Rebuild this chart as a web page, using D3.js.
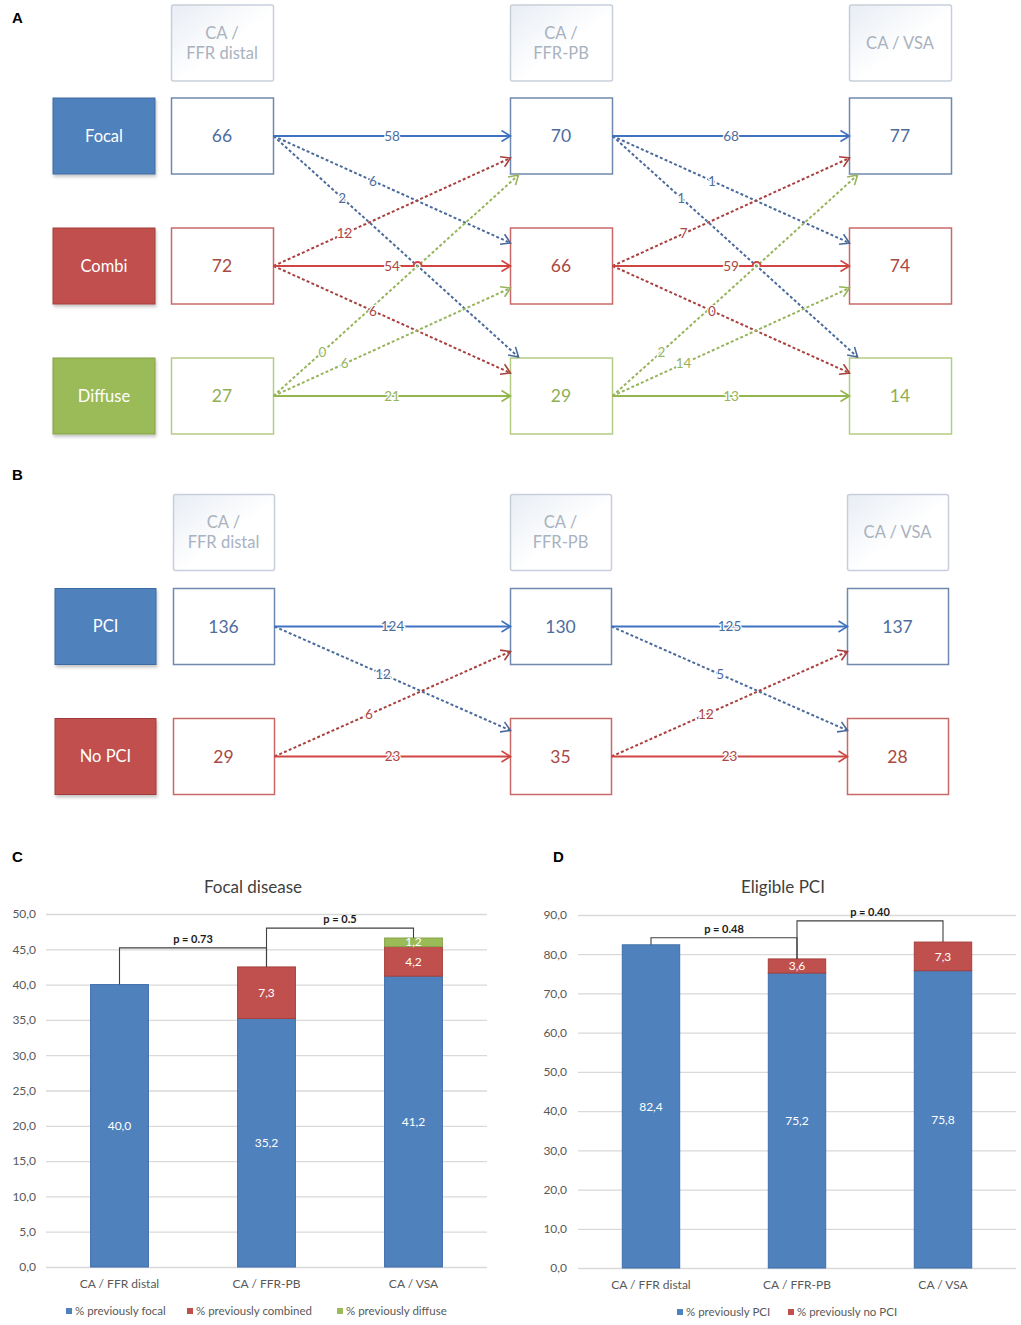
<!DOCTYPE html>
<html><head><meta charset="utf-8">
<script src="https://cdn.jsdelivr.net/npm/d3@7"></script>
<style>
body{margin:0;background:#fff}
svg{display:block}
</style>
</head><body>
<svg id="chart" width="1021" height="1325"></svg>
<script>
// ---------------- DATA ----------------
const flowStages = [["CA /","FFR distal"],["CA /","FFR-PB"],["CA / VSA"]];
const panelACategories = ["Focal","Combi","Diffuse"];
const panelACounts = [[66,72,27],[70,66,29],[77,74,14]];           // per stage, per category
const panelAFlow1 = [[58,6,2],[12,54,6],[0,6,21]];                  // FFR distal -> FFR-PB (from row, to col)
const panelAFlow2 = [[68,1,1],[7,59,0],[2,14,13]];                  // FFR-PB -> VSA
const panelBCategories = ["PCI","No PCI"];
const panelBCounts = [[136,29],[130,35],[137,28]];
const panelBFlow1 = [[124,12],[6,23]];
const panelBFlow2 = [[125,5],[12,23]];

const barStages = ["CA / FFR distal","CA / FFR-PB","CA / VSA"];
const focalPrevFocal = [40.0,35.2,41.2];
const focalPrevCombined = [0,7.3,4.2];
const focalPrevDiffuse = [0,0,1.2];
const focalTicks = [0,5,10,15,20,25,30,35,40,45,50];
const focalLegend = ["% previously focal","% previously combined","% previously diffuse"];
const focalPValues = [{from:0,to:1,level:45.2,text:"p = 0.73"},{from:1,to:2,level:48.0,text:"p = 0.5"}];

const pciPrevPCI = [82.4,75.2,75.8];
const pciPrevNoPCI = [0,3.6,7.3];
const pciTicks = [0,10,20,30,40,50,60,70,80,90];
const pciLegend = ["% previously PCI","% previously no PCI"];
const pciPValues = [{from:0,to:1,level:84.2,text:"p = 0.48"},{from:1,to:2,level:88.5,text:"p = 0.40"}];

// ---------------- STYLE ----------------
const FONT = "Lato, 'Open Sans', sans-serif";
const palette = [
  {fill:"#4F81BD", edge:"#3c6aa3", box:"#7089b0", text:"#4d6d9d", solid:"#3f72c0", dash:"#4a6a9b", label:"#4d6d9d"},
  {fill:"#C0504D", edge:"#a03e3b", box:"#c96a69", text:"#a94845", solid:"#cf4542", dash:"#a8403e", label:"#a94845"},
  {fill:"#9BBB59", edge:"#82a046", box:"#b5cc84", text:"#91ae55", solid:"#93b64f", dash:"#97b45c", label:"#97b45c"}
];

const svg = d3.select("#chart");
const defs = svg.append("defs");
const grad = defs.append("linearGradient").attr("id","hdrGrad").attr("x1",0).attr("y1",0).attr("x2",1).attr("y2",1);
grad.append("stop").attr("offset","0%").attr("stop-color","#e8edf4");
grad.append("stop").attr("offset","55%").attr("stop-color","#ffffff");
const flt = defs.append("filter").attr("id","shadow").attr("x","-20%").attr("y","-20%").attr("width","140%").attr("height","160%");
flt.append("feDropShadow").attr("dx",1).attr("dy",2.5).attr("stdDeviation",1.8).attr("flood-color","#000").attr("flood-opacity",0.22);

function markerFor(color){
  const id = "arr" + color.slice(1);
  if (defs.select("#"+id).empty()){
    defs.append("marker").attr("id",id).attr("viewBox","-11 -7 13 14").attr("refX",0).attr("refY",0)
      .attr("markerWidth",13).attr("markerHeight",14).attr("markerUnits","userSpaceOnUse").attr("orient","auto")
      .append("path").attr("d","M-9,-5.5L0,0L-9,5.5").attr("fill","none").attr("stroke",color).attr("stroke-width",1.6);
  }
  return "url(#"+id+")";
}

// panel letters
[["A",12,23],["B",12,480],["C",12,862],["D",553,862]].forEach(([t,x,y])=>{
  svg.append("text").attr("x",x).attr("y",y).text(t).attr("font-family","'Liberation Sans', Arial, sans-serif")
    .attr("font-weight","bold").attr("font-size",15).attr("fill","#000");
});

// ---------------- FLOW DIAGRAMS ----------------
function drawFlow(cfg){
  const g = svg.append("g");
  const W = cfg.boxW, H = cfg.boxH;
  const x = d3.scalePoint().domain(d3.range(cfg.stages.length)).range(cfg.xRange);
  const y = d3.scalePoint().domain(d3.range(cfg.categories.length)).range(cfg.yRange);

  cfg.stages.forEach((lines,i)=>{
    g.append("rect").attr("x",x(i)+0.5).attr("y",cfg.headerY-H/2).attr("width",W).attr("height",H).attr("rx",2)
      .attr("fill","url(#hdrGrad)").attr("stroke","#c8cfda").attr("stroke-width",1.5);
    const t = g.append("text").attr("text-anchor","middle").attr("fill","#a9b2bf").attr("font-size",16.5).attr("font-family",FONT);
    lines.forEach((l,k)=> t.append("tspan").attr("x",x(i)+W/2).attr("y",cfg.headerY+(k-(lines.length-1)/2)*20).attr("dy","0.35em").text(l));
  });

  cfg.categories.forEach((c,r)=>{
    const p = palette[cfg.colorIdx[r]];
    g.append("rect").attr("x",cfg.catX).attr("y",y(r)-H/2).attr("width",W).attr("height",H)
      .attr("fill",p.fill).attr("stroke",p.edge).attr("stroke-width",1).attr("filter","url(#shadow)");
    g.append("text").attr("x",cfg.catX+W/2).attr("y",y(r)).attr("dy","0.35em").attr("text-anchor","middle")
      .attr("fill","#fff").attr("font-size",16.5).attr("font-family",FONT).text(c);
  });

  cfg.counts.forEach((col,s)=> col.forEach((v,r)=>{
    const p = palette[cfg.colorIdx[r]];
    g.append("rect").attr("x",x(s)+0.5).attr("y",y(r)-H/2).attr("width",W).attr("height",H)
      .attr("fill","#fff").attr("stroke",p.box).attr("stroke-width",1.5);
    g.append("text").attr("x",x(s)+W/2).attr("y",y(r)).attr("dy","0.35em").attr("text-anchor","middle")
      .attr("fill",p.text).attr("font-size",17.5).attr("font-family",FONT).text(v);
  }));

  const flows = [];
  cfg.flows.forEach((m,s)=> m.forEach((row,i)=> row.forEach((v,j)=>{
    const d = j - i, a = cfg.arrive(d);
    flows.push({s,i,j,v,d,x1:x(s)+W+0.5, y1:y(i), x2:x(s+1)+a[0]+0.5, y2:y(j)+a[1], t:cfg.labelT(d)});
  })));
  flows.forEach(f=>{
    f.humps = [];
    if (f.d!==0) return;
    const xs = [];
    flows.forEach(o=>{
      if (o.s!==f.s || o.d===0) return;
      if (Math.min(o.y1,o.y2) < f.y1-2 && Math.max(o.y1,o.y2) > f.y1+2){
        xs.push(o.x1 + (f.y1-o.y1)/(o.y2-o.y1)*(o.x2-o.x1));
      }
    });
    xs.sort((a,b)=>a-b).forEach(v=>{
      const last = f.humps[f.humps.length-1];
      if (last!==undefined && Math.abs(v-last)<8) f.humps[f.humps.length-1]=(last+v)/2; else f.humps.push(v);
    });
  });
  const ordered = flows.slice().sort((a,b)=>(a.d===0)-(b.d===0));
  ordered.forEach(f=>{
    const p = palette[cfg.colorIdx[f.i]];
    const col = f.d===0 ? p.solid : p.dash;
    let dStr = `M${f.x1},${f.y1}`;
    f.humps.forEach(hx=>{ dStr += `L${hx-4},${f.y1}A4,4 0 0 1 ${hx+4},${f.y1}`; });
    dStr += `L${f.x2},${f.y2}`;
    g.append("path").attr("d",dStr).attr("fill","none").attr("stroke",col)
      .attr("stroke-width",2).attr("stroke-dasharray",f.d===0?null:"3,2.2")
      .attr("marker-end",markerFor(col));
  });
  ordered.forEach(f=>{
    const p = palette[cfg.colorIdx[f.i]];
    g.append("text").attr("x",f.x1+(f.x2-f.x1)*f.t).attr("y",f.y1+(f.y2-f.y1)*f.t).attr("dy","0.35em")
      .attr("text-anchor","middle").attr("font-size",13.5).attr("font-family",FONT)
      .attr("fill",p.label).attr("stroke","#fff").attr("stroke-width",2.5).attr("paint-order","stroke")
      .text(f.v);
  });
}

drawFlow({
  stages: flowStages, categories: panelACategories, counts: panelACounts, flows:[panelAFlow1,panelAFlow2],
  colorIdx:[0,1,2], boxW:102, boxH:76, xRange:[171,849], yRange:[136,396], headerY:43, catX:53,
  arrive: d => ({0:[0,0],1:[0,-23],"-1":[0,22],2:[8,-39],"-2":[8,39]})[d],
  labelT: d => ({0:0.5,1:0.42,"-1":0.3,2:0.28,"-2":0.2})[d]
});
drawFlow({
  stages: flowStages, categories: panelBCategories, counts: panelBCounts, flows:[panelBFlow1,panelBFlow2],
  colorIdx:[0,1], boxW:101, boxH:76, xRange:[173,847], yRange:[626.5,756.5], headerY:532.5, catX:55,
  arrive: d => ({0:[0,0],1:[0,-26],"-1":[0,25]})[d],
  labelT: d => ({0:0.5,1:0.46,"-1":0.4})[d]
});

// ---------------- BAR CHARTS ----------------
function drawBars(cfg){
  const g = svg.append("g");
  const y = d3.scaleLinear().domain([0,cfg.max]).range([cfg.bottom,cfg.top]);
  const x = d3.scaleBand().domain(cfg.cats).range([cfg.left,cfg.right]).paddingInner(0.6).paddingOuter(0.3);
  const fmt = v => d3.format(".1f")(v).replace(".",",");

  const ya = g.append("g").attr("transform",`translate(${cfg.left},0)`)
    .call(d3.axisLeft(y).tickValues(cfg.ticks).tickSize(-(cfg.right-cfg.left)).tickPadding(cfg.pad).tickFormat(fmt));
  ya.select(".domain").remove();
  ya.selectAll(".tick line").attr("stroke","#d9d9d9").attr("stroke-width",1.3);
  ya.selectAll(".tick text").attr("fill","#595959").attr("font-size",12).attr("font-family",FONT);

  const xa = g.append("g").attr("transform",`translate(0,${cfg.bottom})`)
    .call(d3.axisBottom(x).tickSize(0).tickPadding(12));
  xa.select(".domain").remove();
  xa.selectAll(".tick text").attr("fill","#595959").attr("font-size",12).attr("font-family",FONT);

  const rows = cfg.cats.map((c,k)=>{ const o={cat:c}; cfg.keys.forEach((key,n)=>o[key]=cfg.series[n][k]); return o; });
  const stacked = d3.stack().keys(cfg.keys)(rows);
  stacked.forEach((layer,n)=>{
    const segs = layer.filter(d=>d[1]-d[0]>0);
    g.selectAll(null).data(segs).join("rect")
      .attr("x",d=>x(d.data.cat)+0.5).attr("width",x.bandwidth()-1)
      .attr("y",d=>y(d[1])).attr("height",d=>y(d[0])-y(d[1]))
      .attr("fill",cfg.colors[n]).attr("stroke",cfg.edges[n]).attr("stroke-width",1);
    g.selectAll(null).data(segs).join("text")
      .attr("x",d=>x(d.data.cat)+x.bandwidth()/2).attr("y",d=>y((d[0]+d[1])/2)).attr("dy","0.35em")
      .attr("text-anchor","middle").attr("fill","#fff").attr("font-size",12).attr("font-family",FONT)
      .text(d=>fmt(d[1]-d[0]));
  });

  const total = k => d3.sum(cfg.series, s=>s[k]);
  cfg.pvals.forEach(p=>{
    const xa1 = x(cfg.cats[p.from])+x.bandwidth()/2, xb = x(cfg.cats[p.to])+x.bandwidth()/2;
    g.append("path").attr("d",`M${xa1},${y(total(p.from))}V${y(p.level)}H${xb}V${y(total(p.to))}`)
      .attr("fill","none").attr("stroke","#404040").attr("stroke-width",1.1);
    g.append("text").attr("x",(xa1+xb)/2).attr("y",y(p.level)-9).attr("dy","0.35em").attr("text-anchor","middle")
      .attr("font-size",11).attr("font-weight","bold").attr("font-family",FONT).attr("fill","#1a1a1a").text(p.text);
  });

  g.append("text").attr("x",cfg.titleX).attr("y",cfg.titleY).attr("dy","0.35em").attr("text-anchor","middle")
    .attr("font-size",17).attr("font-family",FONT).attr("fill","#404040").text(cfg.title);

  cfg.legend.forEach((l,n)=>{
    g.append("rect").attr("x",cfg.legendX[n]).attr("y",cfg.legendY-3).attr("width",6).attr("height",6).attr("fill",cfg.colors[n]);
    g.append("text").attr("x",cfg.legendX[n]+9).attr("y",cfg.legendY).attr("dy","0.35em")
      .attr("font-size",11.5).attr("font-family",FONT).attr("fill","#595959").text(l);
  });
}

drawBars({
  cats: barStages, keys:["focal","combined","diffuse"], series:[focalPrevFocal,focalPrevCombined,focalPrevDiffuse],
  colors:["#4F81BD","#C0504D","#9BBB59"], edges:["#3f6eaa","#a5403d","#86a549"],
  max:50, ticks:focalTicks, left:46, right:487, top:914, bottom:1267, pad:10,
  pvals: focalPValues, title:"Focal disease", titleX:253, titleY:887,
  legend: focalLegend, legendX:[66,187,337], legendY:1311
});
drawBars({
  cats: barStages, keys:["pci","nopci"], series:[pciPrevPCI,pciPrevNoPCI],
  colors:["#4F81BD","#C0504D"], edges:["#3f6eaa","#a5403d"],
  max:90, ticks:pciTicks, left:578, right:1016, top:915, bottom:1268, pad:11,
  pvals: pciPValues, title:"Eligible PCI", titleX:783, titleY:887,
  legend: pciLegend, legendX:[677,788], legendY:1312
});
</script>
</body></html>
